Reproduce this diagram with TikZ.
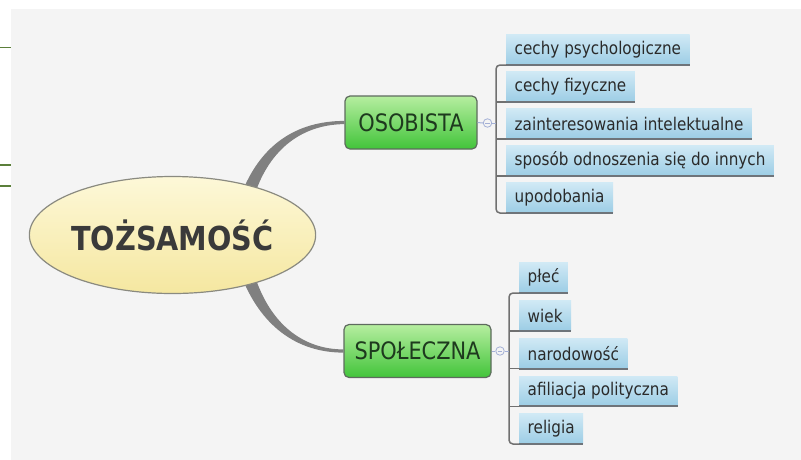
\documentclass[tikz,border=0pt]{standalone}
\usepackage{fontspec}
\setmainfont{DejaVu Sans}
\newfontfamily\tah{DejaVu Sans}[FakeStretch=0.87]
\usetikzlibrary{shapes.geometric,calc}
\definecolor{panelcol}{HTML}{F4F4F4}
\definecolor{edgegreen}{HTML}{5B7F3A}
\definecolor{rootTop}{HTML}{FDF8D8}
\definecolor{rootBot}{HTML}{F5E7A0}
\definecolor{rootEdge}{HTML}{8A8A80}
\definecolor{titlecol}{HTML}{3A3A3A}
\definecolor{greenTop}{HTML}{B6EEA0}
\definecolor{greenBot}{HTML}{42C43A}
\definecolor{greenEdge}{HTML}{5E6B5E}
\definecolor{greentext}{HTML}{1E3A1E}
\definecolor{blueTop}{HTML}{D0E9F5}
\definecolor{blueBot}{HTML}{9CCDE5}
\definecolor{childtext}{HTML}{2A2A2A}
\definecolor{ulcol}{HTML}{6E747A}
\definecolor{brackcol}{HTML}{707070}
\definecolor{conncol}{HTML}{808080}
\definecolor{iconcol}{HTML}{A4B0D6}
\pgfdeclarelayer{panel}
\pgfdeclarelayer{background}
\pgfsetlayers{panel,background,main}
\begin{document}
\begin{tikzpicture}[x=1pt,y=-1pt,
  rootnode/.style={ellipse, draw=rootEdge, line width=1.2pt, top color=rootTop, bottom color=rootBot,
    minimum width=282pt, minimum height=117pt, inner sep=0pt,
    font=\tah\bfseries\fontsize{33}{33}\selectfont, text=titlecol},
  mainbox/.style={rectangle, rounded corners=5pt, draw=greenEdge, line width=1.2pt,
    top color=greenTop, bottom color=greenBot, minimum height=53pt, inner xsep=0pt,
    font=\tah\fontsize{24}{24}\selectfont, text=greentext},
  childbox/.style={rectangle, anchor=south west, inner xsep=8.5pt, inner ysep=0pt, minimum height=30pt,
    top color=blueTop, bottom color=blueBot, font=\tah\fontsize{17.5}{17.5}\selectfont, text=childtext},
  underl/.style={draw=ulcol, line width=2pt},
  bracket/.style={draw=brackcol, line width=1.5pt, rounded corners=4pt},
  conn/.style={fill=conncol},
  collapse/.style={circle, draw=iconcol, line width=0.8pt, minimum size=8.5pt, inner sep=0pt, fill=panelcol,
    path picture={\draw[iconcol, line width=0.8pt] ($(path picture bounding box.west)+(1.8,0)$) -- ($(path picture bounding box.east)+(-1.8,0)$);}},
  iconline/.style={draw=iconcol, line width=1pt},
  leftline/.style={draw=edgegreen, line width=1.2pt}
]
\useasboundingbox (0,0) rectangle (801,459);
\begin{pgfonlayer}{panel}
\fill[white] (0,0) rectangle (801,459);
\fill[panelcol] (11,9) rectangle (802,460);
\end{pgfonlayer}
\draw[leftline] (0,47.7) -- (11,47.7);
\draw[leftline] (0,165) -- (11,165);
\draw[leftline] (0,186) -- (11,186);

% central nodes
\node[rootnode] (root) at (172.5,235) {TOŻSAMOŚĆ};
\node[mainbox, minimum width=132pt] (osob) at (411,122.5) {OSOBISTA};
\node[mainbox, minimum width=147pt] (spol) at (417.5,351) {SPOŁECZNA};

% tapered connectors
\begin{pgfonlayer}{background}
\fill[conn] ($(root.center)+(68.5,-40)$) .. controls (260,145) and (296,121) .. ($(osob.west)+(0,-1.6)$)
  -- ($(osob.west)+(0,1.6)$) .. controls (303,124.5) and (270,148) .. ($(root.center)+(82,-40)$) -- cycle;
\fill[conn] ($(root.center)+(68.5,40)$) .. controls (260,325) and (296,352.6) .. ($(spol.west)+(0,1.6)$)
  -- ($(spol.west)+(0,-1.6)$) .. controls (303,349.4) and (270,324) .. ($(root.center)+(82,40)$) -- cycle;
\end{pgfonlayer}

% OSOBISTA children
\node[childbox] (o1) at (506,65) {cechy psychologiczne};
\node[childbox] (o2) at (506,102) {cechy fizyczne};
\node[childbox] (o3) at (506,139) {zainteresowania intelektualne};
\node[childbox] (o4) at (506,176) {sposób odnoszenia się do innych};
\node[childbox] (o5) at (506,213) {upodobania};
\foreach \n in {o1,o2,o3,o4,o5} \draw[underl] (\n.south west) -- (\n.south east);
\draw[bracket] (o1.south west) -- ++(-10,0) |- (o5.south west);
\foreach \n in {o2,o3,o4} \draw[bracket] (\n.south west) -- ++(-10,0);
\node[collapse] (oc) at (487.5,123) {};
\draw[iconline] (osob.east) -- (oc.west);
\draw[iconline] (oc.east) -- ++(4.3,0) coordinate (ocend);

% SPOLECZNA children
\node[childbox] (s1) at (519,293) {płeć};
\node[childbox] (s2) at (519,330.75) {wiek};
\node[childbox] (s3) at (519,368.5) {narodowość};
\node[childbox] (s4) at (519,406.25) {afiliacja polityczna};
\node[childbox] (s5) at (519,444) {religia};
\foreach \n in {s1,s2,s3,s4,s5} \draw[underl] (\n.south west) -- (\n.south east);
\draw[bracket] (s1.south west) -- ++(-10,0) |- (s5.south west);
\foreach \n in {s2,s3,s4} \draw[bracket] (\n.south west) -- ++(-10,0);
\node[collapse] (sc) at (500,351) {};
\draw[iconline] (spol.east) -- (sc.west);
\draw[iconline] (sc.east) -- ++(4.8,0) coordinate (scend);
\end{tikzpicture}
\end{document}
